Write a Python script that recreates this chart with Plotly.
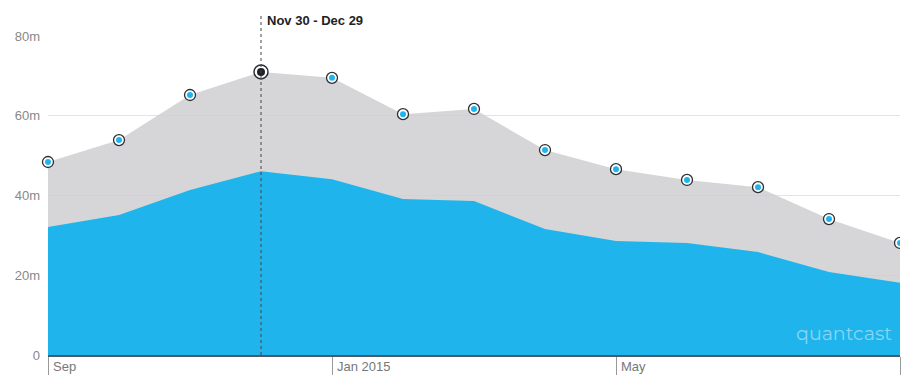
import plotly.graph_objects as go

months = ["Sep", "Oct", "Nov", "Dec", "Jan 2015", "Feb", "Mar", "Apr", "May", "Jun", "Jul", "Aug", "Sep"]
total = [48.4, 53.9, 65.2, 71.0, 69.5, 60.4, 61.7, 51.4, 46.6, 43.9, 42.1, 34.1, 28.1]
subset = [32.1, 35.1, 41.4, 46.1, 44.1, 39.1, 38.6, 31.6, 28.6, 28.1, 25.8, 20.8, 18.1]
tick_idx = [0, 4, 8, 12]
tick_labels = ["Sep", "Jan 2015", "May", ""]
y_ticks = [0, 20, 40, 60, 80]
y_labels = ["0", "20m", "40m", "60m", "80m"]
hover_idx = 3
hover_label = "Nov 30 - Dec 29"

x = list(range(len(months)))
font = "Liberation Sans, Arial, sans-serif"

fig = go.Figure()
fig.add_trace(go.Scatter(x=x, y=total, mode="lines", fill="tozeroy",
                         line=dict(color="rgba(207,207,210,0.85)", width=0),
                         fillcolor="rgba(207,207,210,0.85)", hoverinfo="skip"))
fig.add_trace(go.Scatter(x=x, y=subset, mode="lines", fill="tozeroy",
                         line=dict(color="#1fb5ec", width=0),
                         fillcolor="#1fb5ec", hoverinfo="skip"))

fig.add_shape(type="line", x0=hover_idx, x1=hover_idx, y0=0, y1=1.066, yref="y domain",
              line=dict(color="#444", width=1, dash="3px,3px"), layer="above")

last = len(x) - 1
groups = [([i for i in x if i != hover_idx and i != last], False), ([last], True)]
for idxs, clip in groups:
    gy = [total[i] for i in idxs]
    fig.add_trace(go.Scatter(x=idxs, y=gy, mode="markers", cliponaxis=clip,
                             marker=dict(size=11, color="white", line=dict(color="#2a2f36", width=1.3)),
                             hoverinfo="skip"))
    fig.add_trace(go.Scatter(x=idxs, y=gy, mode="markers", cliponaxis=clip,
                             marker=dict(size=6, color="#1fb5ec"), hoverinfo="skip"))
fig.add_trace(go.Scatter(x=[hover_idx], y=[total[hover_idx]], mode="markers",
                         marker=dict(size=14, color="white", line=dict(color="#2a2f36", width=1.5)),
                         hoverinfo="skip"))
fig.add_trace(go.Scatter(x=[hover_idx], y=[total[hover_idx]], mode="markers",
                         marker=dict(size=8, color="#1e2329"), hoverinfo="skip"))

fig.add_annotation(x=hover_idx, y=1.05, yref="y domain", text="<b>" + hover_label + "</b>",
                   showarrow=False, xanchor="left", yanchor="middle", xshift=4,
                   font=dict(family=font, size=13, color="#222"))

for i, lab in zip(tick_idx, tick_labels):
    if lab:
        fig.add_annotation(x=i, y=0, text=lab, showarrow=False, xanchor="left", yanchor="top",
                           xshift=3, yshift=-2, font=dict(family=font, size=13, color="#777"))

fig.add_annotation(x=1, y=0, xref="paper", yref="paper", text="quantcast", showarrow=False,
                   xanchor="right", yanchor="bottom", xshift=-6, yshift=8,
                   font=dict(family="Montserrat, Lato, sans-serif", size=19, color="#86d6f4"))

fig.update_layout(
    width=905, height=382, margin=dict(l=40, r=13, t=28, b=35, autoexpand=False),
    paper_bgcolor="white", plot_bgcolor="white", showlegend=False,
    xaxis=dict(range=[0, 12], tickvals=tick_idx, showticklabels=False, ticks="outside",
               ticklen=18, tickcolor="#999", tickwidth=1, showgrid=False, zeroline=False,
               showline=True, linecolor="#4a5966", linewidth=1.5, automargin=False),
    yaxis=dict(range=[0, 80], tickvals=y_ticks, ticktext=y_labels, showgrid=True,
               gridcolor="#e3e3e3", zeroline=False, ticks="", ticklabelstandoff=7,
               automargin=False, tickfont=dict(family=font, size=13, color="#888")),
)
fig.write_html("out.html")
